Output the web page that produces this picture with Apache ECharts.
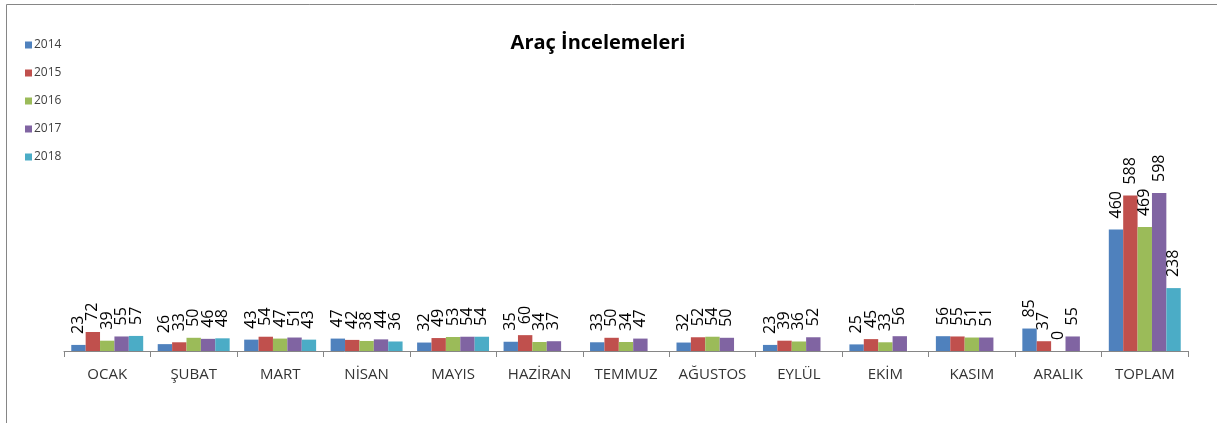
<!DOCTYPE html>
<html>
<head>
    <meta charset="utf-8">
    <title>Araç İncelemeleri</title>
    <script src="https://cdn.jsdelivr.net/npm/echarts@6/dist/echarts.min.js"></script>
    <style>
        html, body { margin: 0; padding: 0; background: #fff; }
        #chart { width: 1217px; height: 423px; }
    </style>
</head>
<body>
    <div id="chart"></div>
    <script type="text/javascript">
        // aylar + toplam
        var months = ['OCAK', 'ŞUBAT', 'MART', 'NİSAN', 'MAYIS', 'HAZİRAN', 'TEMMUZ', 'AĞUSTOS', 'EYLÜL', 'EKİM', 'KASIM', 'ARALIK', 'TOPLAM'];
        var years = ['2014', '2015', '2016', '2017', '2018'];

        var y2014 = [23, 26, 43, 47, 32, 35, 33, 32, 23, 25, 56, 85, 460];
        var y2015 = [72, 33, 54, 42, 49, 60, 50, 52, 39, 45, 55, 37, 588];
        var y2016 = [39, 50, 47, 38, 53, 34, 34, 54, 36, 33, 51, 0, 469];
        var y2017 = [55, 46, 51, 44, 54, 37, 47, 50, 52, 56, 51, 55, 598];
        var y2018 = [57, 48, 43, 36, 54, null, null, null, null, null, null, null, 238];

        var colors = ['#4F81BD', '#C0504D', '#9BBB59', '#8064A2', '#4BACC6'];
        var values = [y2014, y2015, y2016, y2017, y2018];

        var chart = echarts.init(document.getElementById('chart'));

        var series = [];
        for (var i = 0; i < years.length; i++) {
            series.push({
                name: years[i],
                type: 'bar',
                data: values[i],
                barGap: '0%',
                barCategoryGap: '16.8%',
                itemStyle: { color: colors[i] },
                label: {
                    show: true,
                    position: 'top',
                    rotate: 90,
                    align: 'left',
                    verticalAlign: 'middle',
                    distance: 11,
                    fontFamily: 'Open Sans',
                    fontSize: 16,
                    color: '#000'
                }
            });
        }

        chart.setOption({
            animation: false,
            color: colors,
            title: {
                text: 'Araç İncelemeleri',
                left: 593,
                textAlign: 'center',
                top: 28,
                textStyle: { fontFamily: 'Open Sans', fontWeight: 'bold', fontSize: 20, color: '#000' }
            },
            legend: {
                orient: 'vertical',
                left: 20,
                top: 34,
                itemWidth: 7,
                itemHeight: 7,
                itemGap: 16,
                icon: 'rect',
                textStyle: { fontFamily: 'Open Sans', fontSize: 12, color: '#404040', padding: [0, 0, 0, -3] },
                data: years
            },
            grid: { left: 64, right: 29, top: 166, bottom: 72 },
            xAxis: {
                type: 'category',
                data: months,
                axisLine: { lineStyle: { color: '#868686' } },
                axisTick: { show: true, interval: 0, length: 6, lineStyle: { color: '#868686' } },
                axisLabel: { interval: 0, fontFamily: 'Open Sans', fontSize: 15, color: '#333', margin: 16 }
            },
            yAxis: {
                type: 'value',
                min: 0,
                max: 700,
                show: false,
                splitLine: { show: false }
            },
            graphic: [
                { type: 'line', shape: { x1: 6.5, y1: 4.5, x2: 1217, y2: 4.5 }, style: { stroke: '#868686', lineWidth: 1 } },
                { type: 'line', shape: { x1: 6.5, y1: 4.5, x2: 6.5, y2: 423 }, style: { stroke: '#868686', lineWidth: 1 } }
            ],
            series: series
        });
    </script>
</body>
</html>
